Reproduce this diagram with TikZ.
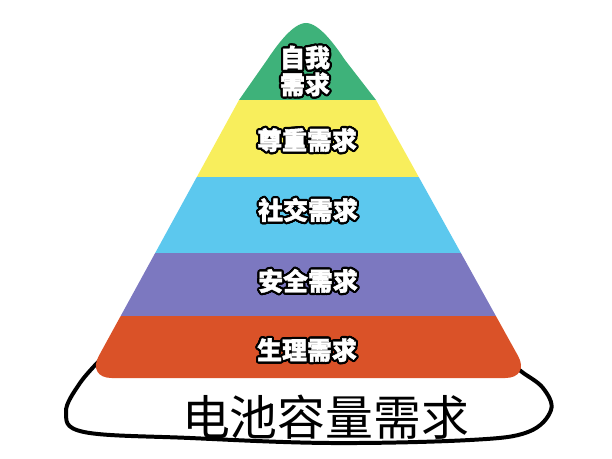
\documentclass[tikz,border=0pt]{standalone}
\usepackage{fontspec}
\newfontfamily\cjk{Noto Sans CJK SC}[BoldFeatures={FakeBold=1.5}]
\usetikzlibrary{calc}
\definecolor{selfgreen}{RGB}{62,178,122}
\definecolor{esteemyellow}{RGB}{248,238,92}
\definecolor{socialblue}{RGB}{92,200,238}
\definecolor{safetypurple}{RGB}{124,120,192}
\definecolor{bodyorange}{RGB}{218,82,40}
\tikzset{
  rim/.style={text=black,font=\cjk\bfseries\fontsize{25}{27}\selectfont,align=center,inner sep=0},
  lbl/.style={rim,text=white},
}
\begin{document}
\begin{tikzpicture}[x=1bp,y=-1bp]
  \useasboundingbox (0,0) rectangle (612,459);
  % corners of the pyramid
  \coordinate (bl) at (86.7,378);
  \coordinate (br) at (530.3,378);
  \coordinate (ml) at (239,100);
  \coordinate (mr) at (376,100);
  \coordinate (tl) at (267,60);
  \coordinate (tr) at (345,60);
  \coordinate (top) at (306,23);
  % hand drawn loop under the pyramid
  \draw[line width=4, line cap=round, line join=round] plot[smooth, tension=0.6] coordinates {(102,358) (80,383) (66,412) (84,432) (190,438) (330,443) (470,440) (528,432) (551,410) (543,388) (522,372) (510,362)};
  % the bands, cut to the pyramid
  \begin{scope}
    \clip (tl) .. controls (277,45) and (293,23) .. (top) .. controls (319,23) and (335,45) .. (tr)
      -- (mr) -- ($(br)!25bp!(mr)$) .. controls ($(br)!11bp!(mr)$) and ($(br)!11bp!(bl)$) .. ($(br)!25bp!(bl)$)
      -- ($(bl)!25bp!(br)$) .. controls ($(bl)!11bp!(br)$) and ($(bl)!11bp!(ml)$) .. ($(bl)!25bp!(ml)$)
      -- (ml) -- cycle;
    \foreach \c/\ya/\yb in {selfgreen/0/100, esteemyellow/100/177, socialblue/177/253, safetypurple/253/316, bodyorange/316/400}
      \fill[\c] (0,\ya) rectangle (612,\yb);
  \end{scope}
  % label the bands
  \foreach \nm/\x/\y/\txt in {self/305/71/{自我\\需求}, esteem/307/140/尊重需求, social/308/210/社交需求, safety/308/281/安全需求, body/307/350/生理需求} {
    \foreach \a in {0,22.5,...,337.5}
      \node[rim] at ($(\x,\y)+(\a:2.2bp)$) {\txt};
    \node[lbl] (\nm) at (\x,\y) {\txt};
  }
  % the battery
  \node[font=\cjk\fontsize{48}{50}\selectfont, inner sep=0] (battery) at (325.5,417) {电池容量需求};
\end{tikzpicture}
\end{document}
